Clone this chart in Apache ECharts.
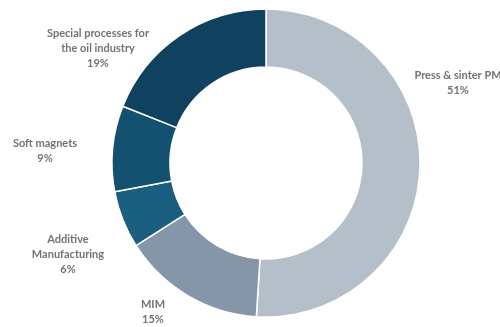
<!DOCTYPE html>
<html>
<head>
<meta charset="utf-8">
<script src="https://cdn.jsdelivr.net/npm/echarts@6/dist/echarts.min.js"></script>
<style>
  html, body { margin: 0; padding: 0; background: #ffffff; }
  #chart { width: 500px; height: 327px; }
</style>
</head>
<body>
<div id="chart"></div>
<script>
// Market segments, clockwise from 12 o'clock
const categories = [
  'Press & sinter PM',
  'MIM',
  'Additive\nManufacturing',
  'Soft magnets',
  'Special processes for\nthe oil industry'
];
const shares = [51, 15, 6, 9, 19];
const sliceColors = ['#b5bfc9', '#8596a8', '#1a5f80', '#145070', '#0f425e'];

// Where each label block sits (centre of the text block, in px)
const labelSpots = [
  [458, 83],
  [153, 312],
  [68, 254],
  [45, 151],
  [98, 48]
];

const chart = echarts.init(document.getElementById('chart'), null, { renderer: 'canvas' });

chart.setOption({
  animation: false,
  backgroundColor: '#ffffff',
  series: [{
    type: 'pie',
    center: [266, 163],
    radius: [96, 154],
    startAngle: 90,
    clockwise: true,
    avoidLabelOverlap: false,
    itemStyle: { borderColor: '#ffffff', borderWidth: 1.5 },
    label: {
      show: true,
      position: 'outside',
      formatter: p => p.name + '\n' + p.value + '%',
      color: '#727272',
      fontFamily: 'Lato',
      fontWeight: 'bold',
      fontSize: 11,
      lineHeight: 15,
      align: 'center'
    },
    labelLine: { show: false },
    labelLayout: params => {
      const s = labelSpots[params.dataIndex];
      return { x: s[0], y: s[1], align: 'center', verticalAlign: 'middle' };
    },
    data: categories.map((name, i) => ({
      name: name,
      value: shares[i],
      itemStyle: { color: sliceColors[i] }
    }))
  }]
});
</script>
</body>
</html>
